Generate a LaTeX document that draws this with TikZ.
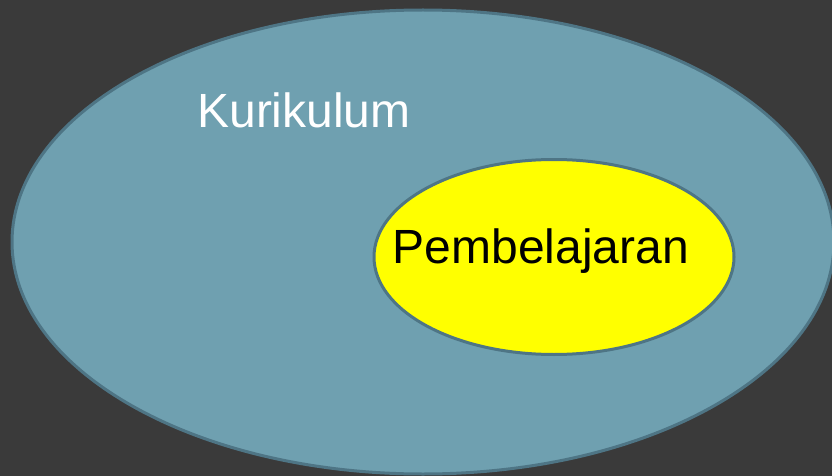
\documentclass[tikz,border=0pt]{standalone}
\usepackage{fontspec}
\setmainfont{Liberation Sans}
\usetikzlibrary{shapes.geometric}
\definecolor{bgGray}{HTML}{3A3A3A}
\definecolor{setTeal}{HTML}{6FA0B0}
\definecolor{setEdge}{HTML}{4E7585}
\definecolor{setYellow}{HTML}{FFFF00}

\begin{document}
\begin{tikzpicture}[x = 1pt, y = -1pt, font=\fontsize{48}{57}\selectfont]
	\tikzstyle{outerStyle}=[shape = ellipse, inner sep = 0pt, draw = setEdge, line width = 3pt, fill = setTeal]
	\tikzstyle{innerStyle}=[shape = ellipse, inner sep = 0pt, draw = setEdge, line width = 3pt, fill = setYellow]
	\tikzstyle{labelStyle}=[inner sep = 0pt, anchor = base]
	\fill[bgGray] (0, 0) rectangle (832, 476);
	\useasboundingbox (0, 0) rectangle (832, 476);
	\node[outerStyle, minimum width = 822pt, minimum height = 464pt] (kur) at (423, 242) {};
	\node[innerStyle, minimum width = 360pt, minimum height = 195pt] (pem) at (554, 257) {};
	\node[labelStyle, text = white] (kurText) at (304, 128) {Kurikulum};
	\node[labelStyle, text = black] (pemText) at (541, 263) {Pembelajaran};
\end{tikzpicture}
\end{document}
